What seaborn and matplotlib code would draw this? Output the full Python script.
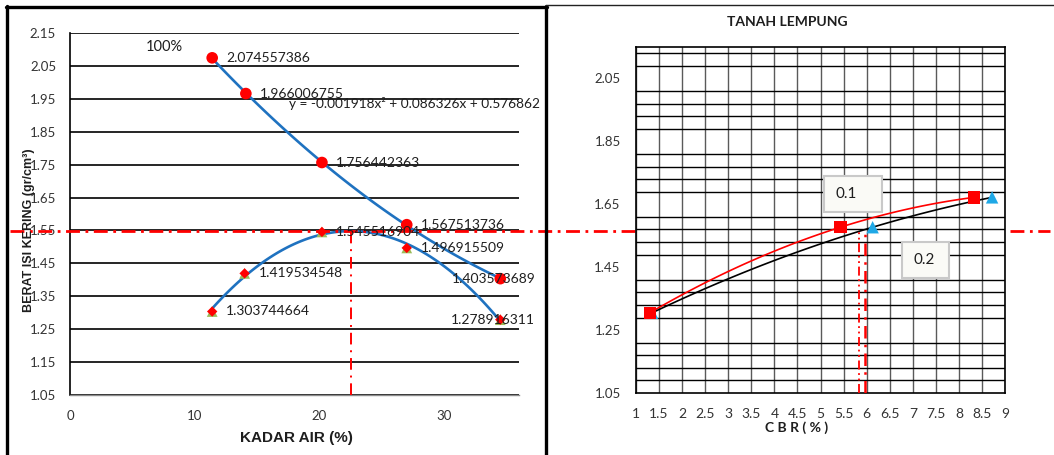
import numpy as np
import matplotlib
matplotlib.use("Agg")
import matplotlib.pyplot as plt
import matplotlib.transforms as mtransforms
from matplotlib.lines import Line2D
from matplotlib.patches import Rectangle
from matplotlib.ticker import FixedLocator, FormatStrFormatter, FuncFormatter
import seaborn as sns

# ---- Compaction test: water content (%) vs dry density (gr/cm3) ----
kadar_air = [11.4, 14.0, 20.2, 27.0, 34.5]
berat_isi_kering = [1.303744664, 1.419534548, 1.545516904, 1.496915509, 1.278916311]

# ---- Zero-air-void densities (100 % saturation) ----
kadar_air_zav = [11.4, 14.1, 20.2, 27.0, 34.5]
berat_isi_zav = [2.074557386, 1.966006755, 1.756442363, 1.567513736, 1.403573689]

# Quadratic trend of the compaction curve
coef_a, coef_b, coef_c = -0.001918, 0.086326, 0.576862

# ---- CBR test (penetration 0.1" and 0.2") ----
berat_isi_cbr = [1.305, 1.577, 1.672]
cbr_01 = [1.30, 5.43, 8.33]
cbr_02 = [1.35, 6.13, 8.72]
cbr_rencana = [5.83, 5.96]

# optimum moisture content and maximum dry density from the trend
omc = -coef_b / (2 * coef_a)
mdd = coef_a * omc ** 2 + coef_b * omc + coef_c

W, H = 1054, 455
sns.set_style("white")
plt.rcParams["font.family"] = ["Lato", "DejaVu Sans"]
plt.rcParams["axes.unicode_minus"] = False

fig = plt.figure(figsize=(W / 100, H / 100), dpi=100)
fig.patch.set_facecolor("white")

ax1 = fig.add_axes([70 / W, 1 - 395 / H, 449 / W, 362 / H])
ax2 = fig.add_axes([636 / W, 1 - 393 / H, 369 / W, 346 / H])

RED = "#FF0000"
BLUE = "#1F72C0"
GREEN = "#9BBB59"
LBLUE = "#1FA8E6"
TXT = "#1e1e1e"

# ================= left: compaction =================
sns.regplot(x=kadar_air_zav, y=berat_isi_zav, order=2, ci=None, scatter=False,
            truncate=True, ax=ax1, line_kws=dict(color=BLUE, lw=1.9, zorder=3))
sns.regplot(x=kadar_air, y=berat_isi_kering, order=2, ci=None, scatter=False,
            truncate=True, ax=ax1, line_kws=dict(color=BLUE, lw=1.9, zorder=3))
sns.scatterplot(x=kadar_air, y=berat_isi_kering, marker="^", s=60, color=GREEN,
                edgecolor="none", ax=ax1, zorder=4)
sns.scatterplot(x=kadar_air, y=berat_isi_kering, marker="D", s=28, color=RED,
                edgecolor="none", ax=ax1, zorder=5)
sns.scatterplot(x=kadar_air_zav, y=berat_isi_zav, marker="o", s=70, color=RED,
                edgecolor="none", ax=ax1, zorder=5)

ax1.set_xlim(0, 36)
ax1.set_ylim(1.05, 2.15)
ax1.set_xticks([0, 10, 20, 30])
ax1.set_yticks(np.round(np.arange(1.05, 2.151, 0.1), 2))
ax1.yaxis.set_major_formatter(FormatStrFormatter("%.2f"))
ax1.grid(axis="y", color="black", lw=1.2)
ax1.set_axisbelow(True)
for s in ("top", "right"):
    ax1.spines[s].set_visible(False)
ax1.spines["left"].set_color("black")
ax1.spines["left"].set_linewidth(1.2)
ax1.spines["bottom"].set_color("#8c8c8c")
ax1.spines["bottom"].set_linewidth(1.0)
ax1.tick_params(axis="y", direction="out", length=6, width=1.2, color="black",
                pad=4, labelsize=9.5, labelcolor="#333333")
ax1.tick_params(axis="x", direction="out", length=4, width=1.0, color="#8c8c8c",
                pad=7, labelsize=9.5, labelcolor="#333333")
ax1.set_xlabel("")
ax1.set_ylabel("")

for xv, yv in zip(kadar_air_zav[:-1], berat_isi_zav[:-1]):
    ax1.annotate(f"{yv:.9f}", (xv, yv), xytext=(14, 0), textcoords="offset pixels",
                 ha="left", va="center", fontsize=10, color=TXT, zorder=6)
ax1.annotate(f"{berat_isi_zav[-1]:.9f}", (kadar_air_zav[-1], berat_isi_zav[-1]),
             xytext=(-7, 0), textcoords="offset pixels", ha="center", va="center",
             fontsize=10, color=TXT, zorder=6)
for xv, yv in zip(kadar_air[:-1], berat_isi_kering[:-1]):
    ax1.annotate(f"{yv:.9f}", (xv, yv), xytext=(14, 0), textcoords="offset pixels",
                 ha="left", va="center", fontsize=10, color=TXT, zorder=6)
ax1.annotate(f"{berat_isi_kering[-1]:.9f}", (kadar_air[-1], berat_isi_kering[-1]),
             xytext=(-7, 0), textcoords="offset pixels", ha="center", va="center",
             fontsize=10, color=TXT, zorder=6)

ax1.text((146 - 70) / 449, 1 - (47 - 33) / 362, "100%", transform=ax1.transAxes,
         ha="left", va="center", fontsize=10.5, color=TXT)
ax1.text((289 - 70) / 449, 1 - (103 - 33) / 362,
         f"y = {coef_a:.6f}x² + {coef_b:.6f}x + {coef_c:.6f}",
         transform=ax1.transAxes, ha="left", va="center", fontsize=9.8,
         color=TXT, zorder=6, clip_on=False)

# maximum dry density reading line (spans both panels)
blend = mtransforms.blended_transform_factory(fig.transFigure, ax1.transData)
hline = Line2D([10 / W, 1050 / W], [mdd, mdd], transform=blend, color=RED, lw=2.0,
               linestyle=(0, (5, 2, 1, 2)), zorder=4, clip_on=False)
ax1.add_line(hline)
ax1.plot([omc, omc], [1.05, mdd], color=RED, lw=1.4,
         linestyle=(0, (6, 3, 1, 3)), zorder=4)

fig.text(29 / W, 1 - 230 / H, "BERAT ISI KERING (gr/cm³)", rotation=90,
         ha="center", va="center", fontsize=9, fontweight="bold",
         family=["Liberation Sans", "DejaVu Sans"], color=TXT)
fig.text(296 / W, 1 - 438 / H, "KADAR AIR (%)", ha="center", va="center",
         fontsize=11, fontweight="bold", family=["Liberation Sans", "DejaVu Sans"],
         color=TXT)

# ================= right: CBR =================
sns.regplot(x=cbr_01, y=berat_isi_cbr, order=2, ci=None, scatter=False,
            truncate=True, ax=ax2, line_kws=dict(color=RED, lw=1.2, zorder=3))
sns.regplot(x=cbr_02, y=berat_isi_cbr, order=2, ci=None, scatter=False,
            truncate=True, ax=ax2, line_kws=dict(color="black", lw=1.2, zorder=3))
sns.scatterplot(x=cbr_02, y=berat_isi_cbr, marker="^", s=80, color=LBLUE,
                edgecolor="none", ax=ax2, zorder=4)
sns.scatterplot(x=cbr_01, y=berat_isi_cbr, marker="s", s=80, color=RED,
                edgecolor="none", ax=ax2, zorder=5)

ax2.set_xlim(1, 9)
ax2.set_ylim(1.05, 2.15)
ax2.set_xticks(np.arange(1, 9.01, 0.5))
ax2.xaxis.set_major_formatter(FuncFormatter(lambda v, p: f"{v:g}"))
ax2.set_yticks(np.round(np.arange(1.05, 2.06, 0.2), 2))
ax2.yaxis.set_major_formatter(FormatStrFormatter("%.2f"))
ax2.yaxis.set_minor_locator(FixedLocator(np.arange(1.05, 2.151, 0.04)))
ax2.grid(axis="y", which="minor", color="black", lw=1.0)
ax2.grid(axis="x", which="major", color="#5a5a5a", lw=1.0)
ax2.set_axisbelow(True)
for s in ax2.spines.values():
    s.set_color("black")
    s.set_linewidth(1.2)
ax2.tick_params(axis="y", which="both", length=0, pad=11, labelsize=9.5,
                labelcolor="#333333")
ax2.tick_params(axis="x", direction="out", length=4, width=1.0, color="black",
                pad=7, labelsize=10, labelcolor="#333333")
ax2.set_xlabel("")
ax2.set_ylabel("")

# CBR readings at the maximum dry density
y_top = ax2.transData.inverted().transform(ax1.transData.transform((0, mdd)))[1]
ax2.plot([cbr_rencana[0]] * 2, [1.05, y_top], color=RED, lw=1.3,
         linestyle=(0, (5, 2, 1, 2, 1, 2)), zorder=4)
ax2.plot([cbr_rencana[1]] * 2, [1.05, y_top], color=RED, lw=1.8,
         linestyle=(0, (5, 2.5, 1, 2.5)), zorder=4)

# penetration labels
for (x0, y0, x1, y1), lab in [((5.07, 1.625, 6.33, 1.739), "0.1"),
                              ((6.76, 1.415, 7.78, 1.529), "0.2")]:
    ax2.add_patch(Rectangle((x0, y0), x1 - x0, y1 - y0, facecolor="#FAFAF6",
                            edgecolor="#C9C9C9", lw=1.5, zorder=6))
    ax2.text(x0 + 0.26, (y0 + y1) / 2, lab, ha="left", va="center",
             fontsize=11, color=TXT, zorder=7)

fig.text(787 / W, 1 - 22 / H, "TANAH LEMPUNG", ha="center", va="center",
         fontsize=10, fontweight="bold", color=TXT)
fig.text(797 / W, 1 - 428 / H, "C B R ( % )", ha="center", va="center",
         fontsize=10, fontweight="bold", color=TXT)

# panel frames
fig.add_artist(Line2D([7 / W, 7 / W], [0, 1 - 6 / H], color="black", lw=2.4))
fig.add_artist(Line2D([546 / W, 546 / W], [0, 1 - 6 / H], color="black", lw=2.4))
fig.add_artist(Line2D([6 / W, 547 / W], [1 - 7 / H, 1 - 7 / H], color="black", lw=2.4))
fig.add_artist(Line2D([546 / W, 1], [1 - 5 / H, 1 - 5 / H], color="#222222", lw=1.0))

fig.savefig("out.png", dpi=100, facecolor="white")
